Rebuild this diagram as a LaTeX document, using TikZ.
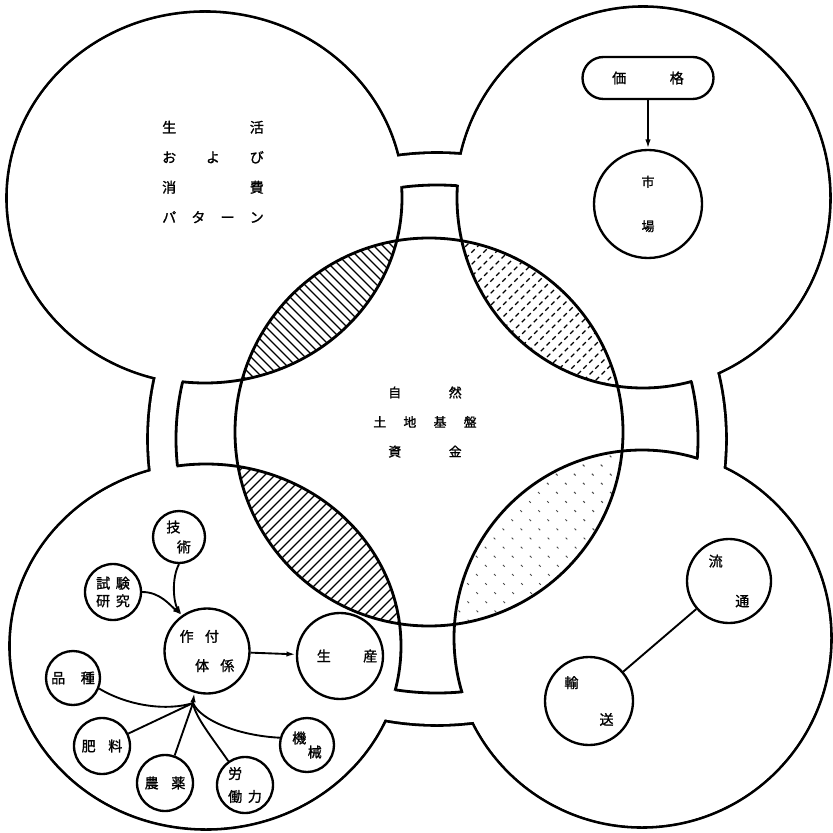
\documentclass[tikz,border=0pt]{standalone}
\usepackage{fontspec}
\newfontfamily\jp[FakeBold=1.2]{Noto Sans CJK JP}
\newcommand{\jpsize}[2]{\jp\fontsize{#1}{#2}\selectfont}
\usetikzlibrary{arrows.meta}

\tikzset{
    outline/.style={line width=2.4pt},
    bubble/.style={circle, draw, line width=2pt, minimum size=#1, inner sep=0pt,
        align=center, font=\jpsize{12}{14}},
    pill/.style={rectangle, draw, line width=2pt, rounded corners=6.3mm,
        minimum width=39.3mm, minimum height=12.6mm, inner sep=0pt, font=\jpsize{12}{14}},
    tag/.style={inner sep=0pt, align=center},
    flow/.style={-{Latex[length=8pt,width=4.5pt]}, line width=1.6pt},
    feed/.style={line width=1.6pt},
    hatch/.style={line width=1.1pt},
    hatch broken/.style={line width=1pt, dash pattern=on 4pt off 3pt},
    hatch sparse/.style={line width=0.9pt, black!70, dash pattern=on 2pt off 9pt},
}

\begin{document}
\begin{tikzpicture}[x=0.3mm, y=-0.3mm]
    \useasboundingbox (0,0) rectangle (833,832);
    \fill[white] (0,0) rectangle (833,832);

    % hub of the cross, central circle
    \coordinate (hub) at (437,439);
    \coordinate (core) at (429,432);

    % outer outline: four lobes joined round the hub
    \foreach \cx/\cy/\rx/\ry in {205/198/197/185, 643/198/186/190, 206/646/195/182, 642/638/188/188}
        \draw[line width=4.8pt] (\cx,\cy) ellipse [x radius=\rx, y radius=\ry];
    \draw[line width=4.8pt] (hub) ellipse [x radius=288, y radius=285];
    \foreach \cx/\cy/\rx/\ry in {205/198/197/185, 643/198/186/190, 206/646/195/182, 642/638/188/188}
        \fill[white] (\cx,\cy) ellipse [x radius=\rx, y radius=\ry];
    \fill[white] (hub) ellipse [x radius=288, y radius=285];

    % ends of the four arms
    \draw[outline] (hub) ellipse [x radius=261, y radius=254];
    \foreach \cx/\cy/\rx/\ry in {205/198/197/185, 643/198/186/190, 206/646/195/182, 642/638/188/188}
        \fill[white] (\cx,\cy) ellipse [x radius=\rx, y radius=\ry];

    % hatched overlaps
    \begin{scope}
        \clip (core) circle (194);
        \clip (205,198) ellipse [x radius=197, y radius=185];
        \foreach \k in {-250,-241,...,250}
            \draw[hatch] (\k,0) -- ++(833,833);
    \end{scope}
    \begin{scope}
        \clip (core) circle (194);
        \clip (643,198) ellipse [x radius=186, y radius=190];
        \foreach \k in {640,652,...,1080}
            \draw[hatch broken] (\k,0) -- ++(-833,833);
    \end{scope}
    \begin{scope}
        \clip (core) circle (194);
        \clip (206,646) ellipse [x radius=195, y radius=182];
        \foreach \k in {640,650,...,1090}
            \draw[hatch] (\k,0) -- ++(-833,833);
    \end{scope}
    \begin{scope}
        \clip (core) circle (194);
        \clip (642,638) ellipse [x radius=188, y radius=188];
        \foreach \k in {-260,-242,...,260}
            \draw[hatch sparse] (\k,0) -- ++(833,833);
    \end{scope}

    % lobe edges inside the arms
    \begin{scope}
        \clip (hub) ellipse [x radius=262, y radius=255];
        \foreach \cx/\cy/\rx/\ry in {205/198/197/185, 643/198/186/190, 206/646/195/182, 642/638/188/188}
            \draw[outline] (\cx,\cy) ellipse [x radius=\rx, y radius=\ry];
    \end{scope}
    \draw[outline] (core) circle (194);

    % texts of the lobes
    \node[tag, font=\jpsize{12}{25.6}] (life) at (213,172)
        {\makebox[30.5mm]{生\hfill 活}\\ \makebox[30.5mm]{お\hfill よ\hfill び}\\
         \makebox[30.5mm]{消\hfill 費}\\ \makebox[30.5mm]{パ\hfill タ\hfill ー\hfill ン}};
    \node[tag, font=\jpsize{11}{25.2}] (nature) at (425,422)
        {\makebox[22mm]{自\hfill 然}\\ \makebox[31mm]{土\hfill 地\hfill 基\hfill 盤}\\
         \makebox[22mm]{資\hfill 金}};

    % market
    \node[pill] (price) at (648,78) {\makebox[21.5mm]{価\hfill 格}};
    \node[bubble=32.4mm, font=\jpsize{11}{38}] (market) at (648,204) {市\\場};
    \draw[flow] (price) -- (market);

    % production
    \node[bubble=15.6mm, font=\jpsize{12}{17}] (tech) at (179,537) {技\hspace*{0.8em}\\ \hspace*{0.7em}術};
    \node[bubble=16.8mm, font=\jpsize{12}{15}] (trial) at (113,592) {試\hspace{0.4em}験\\ 研\hspace{0.4em}究};
    \node[bubble=25.5mm, font=\jpsize{12}{25}, align=left] (crop) at (207,651)
        {作\hspace{0.8em}付\\ \hspace*{1.1em}体\hspace{0.8em}係};
    \node[bubble=25.8mm] (output) at (340,656) {\hspace*{1em}生\hspace{2.3em}産};
    \node[bubble=16.2mm] (variety) at (73,678) {品\hspace{1.1em}種};
    \node[bubble=16.8mm] (fert) at (102,746) {肥\hspace{0.9em}料};
    \node[bubble=16.8mm] (agrochem) at (165,783) {農\hspace{0.9em}薬};
    \node[bubble=16.8mm, font=\jpsize{12}{19.6}] (labour) at (245,785) {労\hspace*{1.4em}\\ 働\hspace{0.4em}力};
    \node[bubble=16.2mm, font=\jpsize{12}{12}] (machine) at (307,745) {機\hspace*{1.1em}\\ \hspace*{1.1em}械};

    \draw[flow] (tech.south) .. controls +(-8,15) and +(-8,-12) .. (crop.125);
    \draw[flow] (trial.east) .. controls +(18,0) and +(-12,-10) .. (crop.125);
    \draw[flow] (crop) -- (output);

    \coordinate (join) at (193,703);
    \draw[feed] (variety.-22) .. controls +(30,18) and +(-25,8) .. (join);
    \draw[feed] (fert) -- (join);
    \draw[feed] (agrochem) -- (join);
    \draw[feed] (labour.125) .. controls +(-15,-22) and +(2,14) .. (join);
    \draw[feed] (machine.165) .. controls +(-40,-2) and +(8,18) .. (join);
    \draw[flow] (join) -- (crop.253);

    % distribution
    \node[bubble=25.2mm, font=\jpsize{12}{34}] (distrib) at (729,581) {流\hspace*{1.9em}\\ \hspace*{1.9em}通};
    \node[bubble=26.4mm, font=\jpsize{12}{31.5}] (transport) at (589,701) {輸\hspace*{2.5em}\\ \hspace*{2.5em}送};
    \draw[feed] (distrib) -- (transport);
\end{tikzpicture}
\end{document}
